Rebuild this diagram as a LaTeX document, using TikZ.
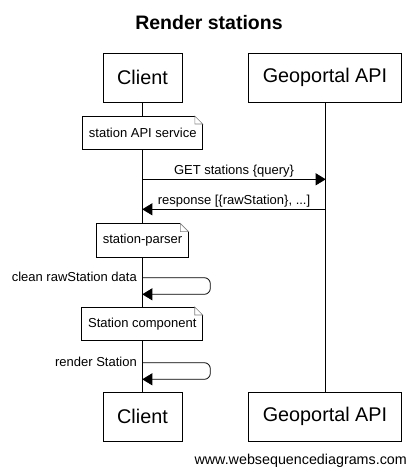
\documentclass[tikz,border=0pt]{standalone}
\usepackage{fontspec}
\setmainfont{Liberation Sans}
\usetikzlibrary{arrows.meta,backgrounds}
\begin{document}
\begin{tikzpicture}[x=1pt,y=-1pt,
  actor/.style={draw, fill=white, line width=0.8pt, minimum height=49pt, inner sep=0pt, font=\fontsize{19.8}{21}\selectfont},
  notebox/.style={minimum height=33pt, inner xsep=6pt, inner ysep=0pt, font=\fontsize{13}{15}\selectfont},
  lbl/.style={font=\fontsize{13}{15}\selectfont, inner sep=1pt},
  msg/.style={line width=0.8pt, -{Triangle[length=10pt,width=12pt]}},
  life/.style={line width=0.8pt},
  fold/.style={draw, line width=0.6pt}
]
\useasboundingbox (0,0) rectangle (416,475);
\begin{pgfonlayer}{background}
\fill[white] (0,0) rectangle (416,475);
\end{pgfonlayer}

\node[font=\bfseries\fontsize{19.5}{21}\selectfont] (title) at (209,23) {Render stations};

\node[actor, minimum width=79pt] (ct) at (142.5,77.5) {Client};
\node[actor, minimum width=153pt] (gt) at (325,77.5) {Geoportal API};
\node[actor, minimum width=79pt] (cb) at (142.5,416.5) {Client};
\node[actor, minimum width=153pt] (gb) at (325,416.5) {Geoportal API};

\begin{pgfonlayer}{background}
\draw[life] (ct.south) -- (cb.north);
\draw[life] (gt.south) -- (gb.north);
\end{pgfonlayer}

% notes
\newcommand{\notefold}[1]{%
  \begin{pgfonlayer}{background}
  \fill[white] (#1.north west) -- ([xshift=-8pt]#1.north east) -- ([yshift=-8pt]#1.north east) -- (#1.south east) -- (#1.south west) -- cycle;
  \draw[line width=0.8pt] ([xshift=-8pt]#1.north east) -- (#1.north west) -- (#1.south west) -- (#1.south east) -- ([yshift=-8pt]#1.north east);
  \draw[fold, gray] ([xshift=-8pt]#1.north east) -- ([yshift=-8pt]#1.north east) -- ([xshift=-8pt,yshift=-8pt]#1.north east) -- cycle;
  \end{pgfonlayer}
}
\node[notebox] (n1) at (142.8,132.7) {station API service};
\notefold{n1}
\node[notebox] (n2) at (142.5,240.3) {station-parser};
\notefold{n2}
\node[notebox] (n3) at (142.3,323.7) {Station component};
\notefold{n3}

% messages
\coordinate (c1) at (142.3,179.3);
\coordinate (g1) at (325.7,179.3);
\coordinate (g2) at (325.7,209.3);
\coordinate (c2) at (142.3,209.3);
\draw[msg] (c1) -- node[lbl, above=1pt] (l1) {GET stations \{query\}} (g1);
\draw[msg] (g2) -- node[lbl, above=1pt] (l2) {response [\{rawStation\}, ...]} (c2);

\coordinate (s1a) at (142.3,277.7);
\coordinate (s1b) at (142.3,294.3);
\draw[msg, rounded corners=6pt] (s1a) -- ++(68,0) |- (s1b);
\node[lbl, anchor=east] (l3) at (138,276.5) {clean rawStation data};

\coordinate (s2a) at (142.3,362.7);
\coordinate (s2b) at (142.3,379.3);
\draw[msg, rounded corners=6pt] (s2a) -- ++(68,0) |- (s2b);
\node[lbl, anchor=east] (l4) at (138,361.5) {render Station};

\node[font=\fontsize{14.3}{16}\selectfont, anchor=east, inner sep=0pt] (foot) at (407,460.7) {www.websequencediagrams.com};
\end{tikzpicture}
\end{document}
